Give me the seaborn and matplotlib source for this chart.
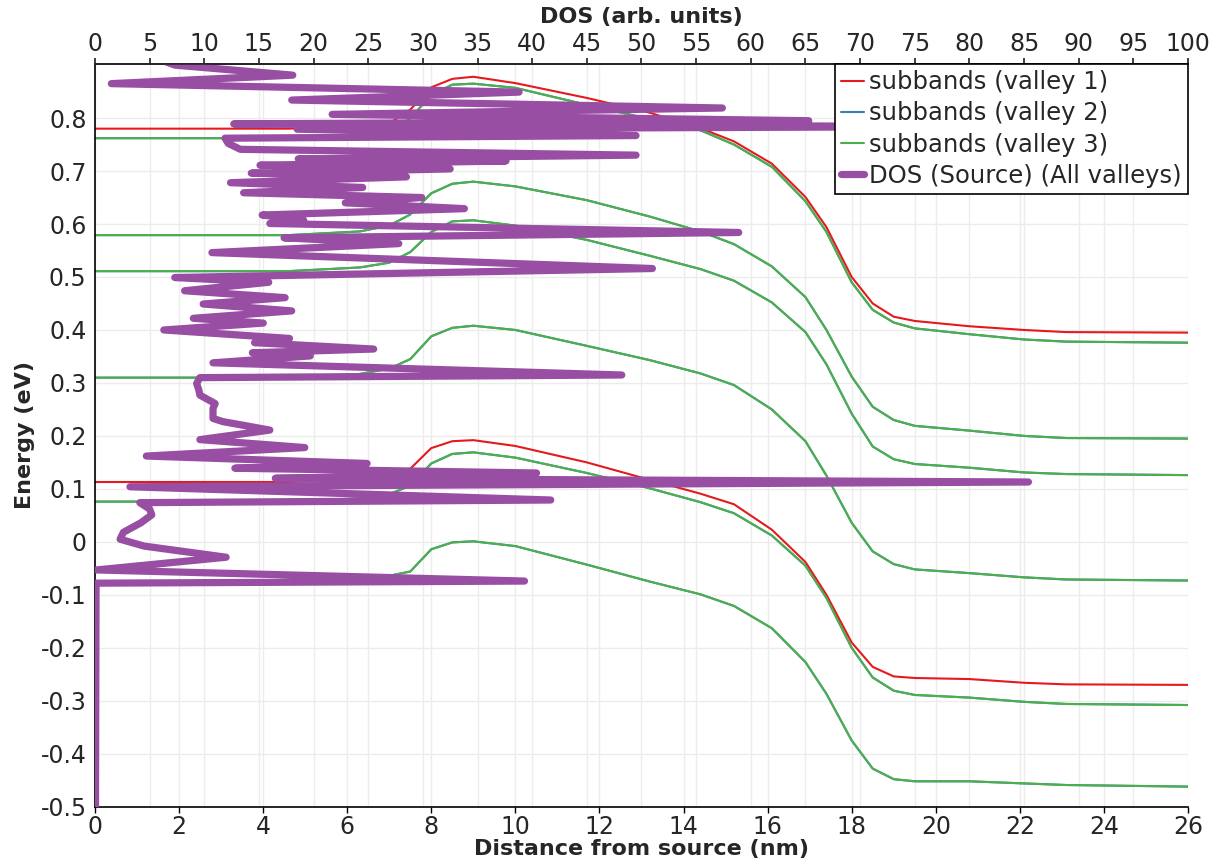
import numpy as np
import pandas as pd
import matplotlib
matplotlib.use("Agg")
import matplotlib.pyplot as plt
import seaborn as sns
from matplotlib.lines import Line2D
from matplotlib.ticker import FuncFormatter

# ---------------- data ----------------
position_nm = [0, 4.6, 6.3, 7.0, 7.5, 8.0, 8.5, 9.0, 10.0, 11.7, 13.2, 14.4,
               15.2, 16.1, 16.9, 17.4, 18.0, 18.5, 19.0, 19.5, 20.8, 22.1, 23.1, 26.0]

valley1_band1 = [0.780, 0.780, 0.784, 0.790, 0.816, 0.858, 0.874, 0.878, 0.866, 0.838, 0.810, 0.781,
                 0.756, 0.714, 0.651, 0.594, 0.500, 0.450, 0.425, 0.417, 0.407, 0.400, 0.396, 0.395]
valley1_band2 = [0.113, 0.113, 0.117, 0.123, 0.138, 0.177, 0.190, 0.192, 0.181, 0.150, 0.117, 0.091,
                 0.071, 0.023, -0.038, -0.100, -0.190, -0.236, -0.254, -0.257, -0.259, -0.266, -0.269, -0.270]

valley3_band1 = [0.762, 0.762, 0.768, 0.777, 0.799, 0.844, 0.863, 0.865, 0.857, 0.825, 0.798, 0.777,
                 0.750, 0.708, 0.643, 0.585, 0.490, 0.438, 0.414, 0.403, 0.392, 0.382, 0.378, 0.376]
valley3_band2 = [0.579, 0.579, 0.586, 0.597, 0.618, 0.658, 0.676, 0.680, 0.671, 0.645, 0.614, 0.586,
                 0.562, 0.520, 0.462, 0.400, 0.312, 0.255, 0.230, 0.219, 0.210, 0.200, 0.196, 0.195]
valley3_band3 = [0.511, 0.511, 0.518, 0.527, 0.547, 0.585, 0.605, 0.607, 0.597, 0.570, 0.540, 0.515,
                 0.493, 0.452, 0.396, 0.335, 0.242, 0.180, 0.156, 0.147, 0.140, 0.131, 0.128, 0.126]
valley3_band4 = [0.310, 0.310, 0.317, 0.327, 0.345, 0.388, 0.404, 0.408, 0.400, 0.370, 0.343, 0.318,
                 0.296, 0.250, 0.190, 0.125, 0.036, -0.018, -0.042, -0.052, -0.059, -0.067, -0.071, -0.073]
valley3_band5 = [0.076, 0.076, 0.082, 0.090, 0.106, 0.148, 0.166, 0.169, 0.159, 0.130, 0.101, 0.075,
                 0.054, 0.012, -0.045, -0.106, -0.200, -0.256, -0.281, -0.289, -0.294, -0.302, -0.306, -0.308]
valley3_band6 = [-0.075, -0.075, -0.069, -0.064, -0.056, -0.014, -0.001, 0.001, -0.008, -0.043, -0.075, -0.099,
                 -0.121, -0.163, -0.227, -0.287, -0.375, -0.428, -0.448, -0.452, -0.452, -0.456, -0.459, -0.462]

# valley 2 is degenerate with valley 3 (completely hidden beneath it)
valley2_bands = [valley3_band1, valley3_band2, valley3_band3,
                 valley3_band4, valley3_band5, valley3_band6]
valley1_bands = [valley1_band1, valley1_band2]
valley3_bands = [valley3_band1, valley3_band2, valley3_band3,
                 valley3_band4, valley3_band5, valley3_band6]

dos_values = [0.05, 0.10, 39.3, 0.15, 12.0, 4.5, 2.3, 2.6, 4.2, 5.2, 5.0, 4.1, 41.7, 3.2, 85.4, 16.5,
              40.4, 12.8, 24.9, 4.7, 19.2, 9.6, 16.0, 11.7, 10.8, 10.8, 11.0, 9.6, 9.5, 9.3, 9.6, 48.2,
              10.8, 19.7, 14.4, 25.5, 14.6, 17.8, 6.3, 15.4, 9.0, 18.0, 9.9, 17.4, 8.2, 15.9, 7.3, 51.0,
              10.7, 27.8, 17.3, 58.9, 16.0, 19.1, 15.3, 33.8, 22.9, 29.9, 13.6, 24.5, 12.4, 28.5, 14.3,
              32.5, 15.1, 37.6, 18.6, 49.5, 13.3, 12.2, 11.9, 49.5, 18.5, 80.0, 12.7, 65.3, 21.7, 57.4,
              18.0, 38.8, 1.5, 18.1, 7.3, 6.0]
dos_energy = [-0.500, -0.078, -0.074, -0.053, -0.029, -0.008, 0.005, 0.018, 0.036, 0.051, 0.062, 0.074,
              0.079, 0.104, 0.113, 0.120, 0.130, 0.139, 0.148, 0.162, 0.178, 0.193, 0.211, 0.227, 0.233,
              0.252, 0.261, 0.277, 0.287, 0.299, 0.310, 0.315, 0.338, 0.351, 0.357, 0.364, 0.376, 0.384,
              0.400, 0.413, 0.422, 0.436, 0.449, 0.461, 0.474, 0.490, 0.499, 0.516, 0.546, 0.563, 0.574,
              0.584, 0.601, 0.607, 0.617, 0.629, 0.640, 0.650, 0.659, 0.669, 0.678, 0.689, 0.696, 0.704,
              0.711, 0.719, 0.723, 0.730, 0.741, 0.752, 0.762, 0.767, 0.779, 0.784, 0.789, 0.795, 0.807,
              0.819, 0.834, 0.849, 0.865, 0.881, 0.900, 0.910]

legend_labels = ["subbands (valley 1)", "subbands (valley 2)",
                 "subbands (valley 3)", "DOS (Source) (All valleys)"]
bottom_ticks = list(range(0, 27, 2))
top_ticks = list(range(0, 101, 5))
energy_ticks = [-0.5, -0.4, -0.3, -0.2, -0.1, 0.0, 0.1, 0.2, 0.3, 0.4, 0.5, 0.6, 0.7, 0.8]

# ---------------- tables ----------------
rows = []
for vname, bands in [("valley 2", valley2_bands), ("valley 1", valley1_bands), ("valley 3", valley3_bands)]:
    for bi, band in enumerate(bands):
        for x, e in zip(position_nm, band):
            rows.append({"x": x, "E": e, "valley": vname, "band": f"{vname}-{bi}"})
sub_df = pd.DataFrame(rows)
dos_df = pd.DataFrame({"dos": dos_values, "E": dos_energy})

colors = {"valley 1": "#e41a1c", "valley 2": "#377eb8", "valley 3": "#4daf4a"}
dos_color = "#984ea3"

# ---------------- figure ----------------
sns.set_theme(style="white")
plt.rcParams["font.family"] = ["DejaVu Sans"]

fig = plt.figure(figsize=(12.22, 8.63), dpi=100)
ax = fig.add_axes([0.0777, 0.0652, 0.8945, 0.8606])

for vname in ["valley 2", "valley 1", "valley 3"]:
    sns.lineplot(data=sub_df[sub_df.valley == vname], x="x", y="E", units="band",
                 estimator=None, color=colors[vname], lw=1.5, ax=ax, legend=False, sort=False)

ax.set_xlim(0, 26)
ax.set_ylim(-0.5, 0.902)
ax.set_xticks(bottom_ticks)
ax.set_xticks([t * 0.26 for t in top_ticks], minor=True)
ax.set_yticks(energy_ticks)
ax.yaxis.set_major_formatter(FuncFormatter(lambda v, p: "0" if abs(v) < 1e-9 else f"{v:.1f}"))
ax.grid(True, which="both", color="#ececec", lw=1.0)
ax.set_axisbelow(True)
ax.tick_params(which="minor", length=0)
ax.tick_params(which="major", direction="out", length=4, width=1, labelsize=17, color="black", pad=2)
ax.set_xlabel("Distance from source (nm)", fontsize=16, fontweight="bold", labelpad=0)
ax.set_ylabel("Energy (eV)", fontsize=16, fontweight="bold", labelpad=4)
for s in ["left", "bottom", "top"]:
    ax.spines[s].set_color("black")
    ax.spines[s].set_linewidth(1.2)
ax.spines["right"].set_visible(False)

ax2 = ax.twiny()
sns.lineplot(data=dos_df, x="dos", y="E", sort=False, estimator=None, color=dos_color,
             lw=5.2, ax=ax2, legend=False)
ax2.set_xlim(0, 100)
ax2.set_ylim(-0.5, 0.902)
ax2.set_xticks(top_ticks)
ax2.tick_params(axis="x", direction="out", length=4, labelsize=17, pad=2)
ax2.set_xlabel("DOS (arb. units)", fontsize=16, fontweight="bold", labelpad=6)
ax2.set_ylabel("")
for s in ["right", "left", "bottom"]:
    ax2.spines[s].set_visible(False)
ax2.spines["top"].set_linewidth(1.2)

handles = [Line2D([], [], color=colors["valley 1"], lw=1.5),
           Line2D([], [], color=colors["valley 2"], lw=1.5),
           Line2D([], [], color=colors["valley 3"], lw=1.5),
           Line2D([], [], color=dos_color, lw=5.2)]
leg = ax2.legend(handles, legend_labels, loc="upper right", bbox_to_anchor=(1.0, 1.0),
                 borderaxespad=0, fontsize=17.5, frameon=True, fancybox=False, framealpha=1,
                 edgecolor="black", handlelength=0.95, handletextpad=0.2, labelspacing=0.3,
                 borderpad=0.25)
leg.get_frame().set_linewidth(1.2)

fig.savefig("out.png", dpi=100)
